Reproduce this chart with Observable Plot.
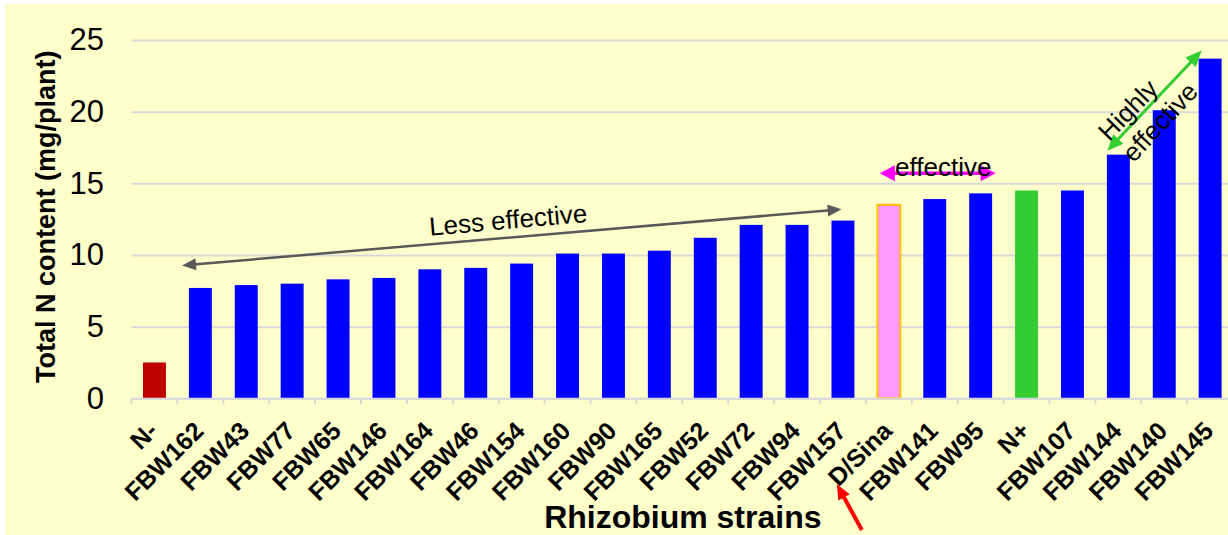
<!DOCTYPE html>
<html>
<head>
<meta charset="utf-8">
<script src="https://cdn.jsdelivr.net/npm/d3@7"></script>
<script src="https://cdn.jsdelivr.net/npm/@observablehq/plot@0.6"></script>
<style>
  html, body { margin: 0; padding: 0; background: #ffffff; }
  #chart { position: absolute; left: 5px; top: 4px; }
</style>
</head>
<body>
<div id="chart"></div>
<script>
// ---- data ----
const strains = ["N-","FBW162","FBW43","FBW77","FBW65","FBW146","FBW164","FBW46","FBW154","FBW160","FBW90","FBW165","FBW52","FBW72","FBW94","FBW157","D/Sina","FBW141","FBW95","N+","FBW107","FBW144","FBW140","FBW145"];
const nContent = [2.5,7.7,7.9,8.0,8.3,8.4,9.0,9.1,9.4,10.1,10.1,10.3,11.2,12.1,12.1,12.4,13.5,13.9,14.3,14.5,14.5,17.0,20.1,23.7];
const groups = ["N-","strain","strain","strain","strain","strain","strain","strain","strain","strain","strain","strain","strain","strain","strain","strain","D/Sina","strain","strain","N+","strain","strain","strain","strain"];
const yTicks = [0, 5, 10, 15, 20, 25];
const groupNames = ["N-", "strain", "D/Sina", "N+"];
const groupColors = ["#C00000", "#0000FF", "#FF99FF", "#33CC33"];

const yTitle = "Total N content (mg/plant)";
const xTitle = "Rhizobium strains";

// annotation anchors (category, value) with pixel nudges
const annotArrows = [
  {from: {x: "FBW162", y: 9.27, dx: -18.3}, to: {x: "FBW157", y: 13.19, dx: -1.3}, heads: ["start","end"], color: "#595959", width: 2.5, headLength: 14, headWidth: 12},
  {from: {x: "D/Sina", y: 15.7, dx: -9}, to: {x: "FBW95", y: 15.7, dx: 15}, heads: ["start","end"], color: "#FF00FF", width: 3.5, headLength: 15, headWidth: 16},
  {from: {x: "FBW144", y: 17.28, dx: -11}, to: {x: "FBW145", y: 24.26, dx: -8.5}, heads: ["start","end"], color: "#33CC33", width: 3, headLength: 16, headWidth: 14},
  {from: {x: "D/Sina", y: -9.19, dx: -27}, to: {x: "D/Sina", y: -6.0, dx: -52}, heads: ["end"], color: "#FF0000", width: 4, headLength: 15, headWidth: 13}
];
const annotTexts = [
  {text: "Less effective", x: "FBW154", y: 12.44, dx: -14, rotate: -5},
  {text: "effective", x: "FBW141", y: 16.16, dx: 8, rotate: 0},
  {text: "Highly", x: "FBW144", y: 20.12, dx: 9.6, rotate: -46},
  {text: "effective", x: "FBW140", y: 19.28, dx: -4.3, rotate: -47}
];

const table = strains.map((s, i) => ({strain: s, value: nContent[i], group: groups[i]}));

function arrowMark(a) {
  return (index, scales) => {
    const {x, y} = scales;
    const half = x.bandwidth() / 2;
    const pt = p => [x(p.x) + half + (p.dx || 0), y(p.y)];
    const [x1, y1] = pt(a.from), [x2, y2] = pt(a.to);
    const ang = Math.atan2(y2 - y1, x2 - x1);
    const ux = Math.cos(ang), uy = Math.sin(ang);
    const hl = a.headLength, hw = a.headWidth / 2;
    const s1 = a.heads.includes("start") ? hl * 0.8 : 0;
    const s2 = a.heads.includes("end") ? hl * 0.8 : 0;
    const g = d3.create("svg:g");
    g.append("line")
      .attr("x1", x1 + ux * s1).attr("y1", y1 + uy * s1)
      .attr("x2", x2 - ux * s2).attr("y2", y2 - uy * s2)
      .attr("stroke", a.color).attr("stroke-width", a.width);
    const head = (tx, ty, dx, dy) =>
      `M${tx},${ty}L${tx - dx * hl - dy * hw},${ty - dy * hl + dx * hw}L${tx - dx * hl + dy * hw},${ty - dy * hl - dx * hw}Z`;
    if (a.heads.includes("end")) g.append("path").attr("d", head(x2, y2, ux, uy)).attr("fill", a.color);
    if (a.heads.includes("start")) g.append("path").attr("d", head(x1, y1, -ux, -uy)).attr("fill", a.color);
    return g.node();
  };
}

function boundaryTicks(index, scales) {
  const {x, y} = scales;
  const step = x.step(), gap = step * x.paddingInner() / 2;
  const y0 = y(0);
  const g = d3.create("svg:g").attr("stroke", "#D9D9D9").attr("stroke-width", 2);
  const xs = strains.map(s => x(s) - gap);
  xs.push(x(strains[strains.length - 1]) + x.bandwidth() + gap);
  for (const xb of xs) g.append("line").attr("x1", xb).attr("x2", xb).attr("y1", y0).attr("y2", y0 + 6);
  return g.node();
}

const chart = Plot.plot({
  width: 1223,
  height: 531,
  marginLeft: 126.5,
  marginRight: -5.1,
  marginTop: 36,
  marginBottom: 136.7,
  style: {background: "#FFFFCC", fontFamily: "Arial, 'Liberation Sans', sans-serif", color: "#000"},
  x: {domain: strains, paddingInner: 0.5, paddingOuter: 0.25, round: false, label: null},
  y: {domain: [0, 25], label: null},
  color: {domain: groupNames, range: groupColors},
  marks: [
    Plot.gridY(yTicks, {stroke: "#D9D9D9", strokeOpacity: 1, strokeWidth: 2}),
    Plot.barY(table, {x: "strain", y: "value", fill: "group"}),
    Plot.barY(table, {x: "strain", y: "value", fill: "group", filter: d => d.group === "D/Sina", stroke: "#FFC000", strokeWidth: 2}),
    Plot.ruleY([0], {stroke: "#D9D9D9", strokeWidth: 2}),
    boundaryTicks,
    Plot.axisY(yTicks, {tickSize: 0, tickPadding: 28, fontSize: 31, label: null}),
    Plot.axisX({tickSize: 0, tickPadding: 28, tickRotate: -45, textAnchor: "end", lineAnchor: "middle", fontSize: 25, fontWeight: "bold", dx: -1.5, label: null}),
    Plot.text([yTitle], {frameAnchor: "left", textAnchor: "middle", lineAnchor: "middle", dx: -85.5, dy: -3, rotate: -90, fontSize: 27, fontWeight: "bold"}),
    Plot.text([xTitle], {frameAnchor: "bottom", textAnchor: "middle", lineAnchor: "middle", dy: 119.4, fontSize: 32, fontWeight: "bold"}),
    ...annotArrows.map(arrowMark),
    ...annotTexts.map(t => Plot.text([t], {x: "x", y: "y", text: "text", dx: t.dx, rotate: t.rotate, textAnchor: "middle", lineAnchor: "middle", fontSize: 26, fill: "#000"}))
  ]
});
document.getElementById("chart").appendChild(chart);
</script>
</body>
</html>
